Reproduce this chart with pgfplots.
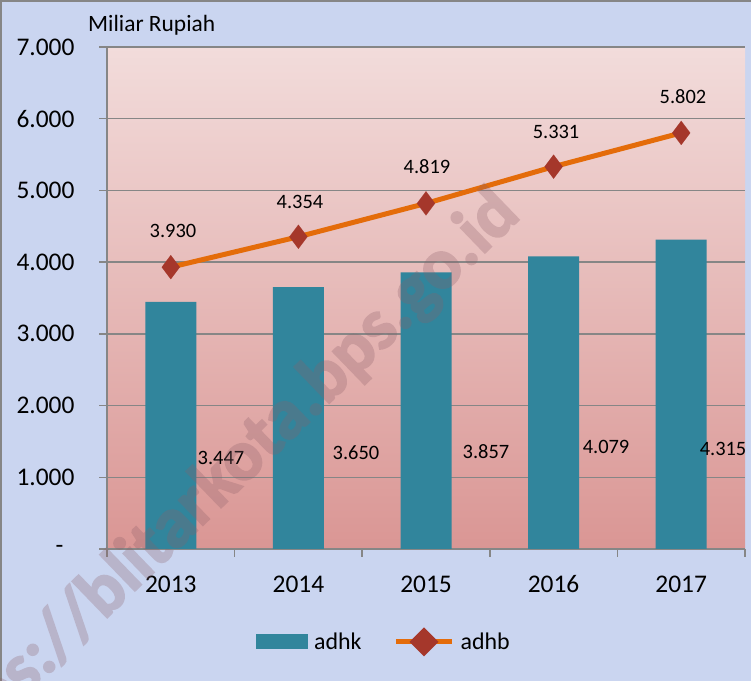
\documentclass[border=0pt]{standalone}
\usepackage{pgfplots}
\pgfplotsset{compat=1.18}
\usepackage{fontspec}
\setmainfont{Carlito}
\newfontfamily\wmfont{Carlito}[BoldFeatures={FakeBold=2.5}]
\definecolor{bgblue}{RGB}{202,213,240}
\definecolor{pinktop}{RGB}{242,220,219}
\definecolor{pinkbot}{RGB}{218,150,148}
\definecolor{barteal}{RGB}{49,133,156}
\definecolor{lineorange}{RGB}{228,108,10}
\definecolor{markred}{RGB}{165,55,43}
\definecolor{gridgray}{RGB}{134,134,134}
\definecolor{wmark}{RGB}{140,95,105}
\begin{document}
\begin{tikzpicture}[x=1bp,y=1bp]
\useasboundingbox (0,0) rectangle (751,681);
\clip (0,0) rectangle (751,681);
\fill[bgblue] (0,0) rectangle (751,681);
\draw[gridgray, line width=2bp] (1,0) -- (1,680) -- (751,680);
\node[anchor=base west, font=\fontsize{23.5}{28}\selectfont, inner sep=0] at (88,649) {Miliar Rupiah};
\begin{axis}[
  at={(107bp,132bp)}, anchor=south west,
  scale only axis, width=638bp, height=502bp,
  xmin=-0.5, xmax=4.5, ymin=0, ymax=7000,
  axis x line*=bottom, axis y line*=left,
  axis line style={gridgray, line width=1.5bp},
  axis background/.style={shade, top color=pinktop, bottom color=pinkbot},
  xtick={0,1,2,3,4},
  xticklabels={2013,2014,2015,2016,2017},
  major x tick style={draw=none},
  minor xtick={-0.5,0.5,1.5,2.5,3.5,4.5},
  minor x tick style={gridgray, line width=1.5bp},
  minor tick length=8bp,
  ytick={0,1000,2000,3000,4000,5000,6000,7000},
  yticklabels={{-\hspace*{11bp}},1.000,2.000,3.000,4.000,5.000,6.000,7.000},
  major tick length=8bp,
  tick align=outside,
  y tick style={gridgray, line width=1.5bp},
  ymajorgrids, grid style={gridgray, line width=1.5bp},
  ticklabel style={font=\fontsize{25.5}{30}\selectfont},
  yticklabel style={xshift=-21bp},
  xticklabel style={yshift=-15bp},
  clip=false,
  legend columns=2,
  legend style={at={(0.434,-0.185)}, anchor=center, draw=none, fill=none,
    font=\fontsize{24}{28}\selectfont, column sep=4bp,
    /tikz/every even column/.append style={column sep=30bp}},
]
\addplot[ybar, bar width=51bp, fill=barteal, draw=none,
  legend image code/.code={\fill[barteal] (0bp,-7.5bp) rectangle (52bp,7.5bp);}]
  coordinates {(0,3447) (1,3650) (2,3857) (3,4079) (4,4315)};
\addlegendentry{adhk}
\addplot[lineorange, line width=5bp, mark=diamond*, mark size=12bp,
  mark options={solid, fill=markred, draw=markred, line width=0.1bp},
  legend image code/.code={\draw[lineorange, line width=5bp] (0bp,0bp) -- (56bp,0bp);
    \fill[markred] (28bp,-11bp) -- (39bp,0bp) -- (28bp,11bp) -- (17bp,0bp) -- cycle;}]
  coordinates {(0,3930) (1,4354) (2,4819) (3,5331) (4,5802)};
\addlegendentry{adhb}
\begin{scope}[every node/.style={font=\fontsize{20.5}{24}\selectfont, inner sep=0}]
\node at (axis cs:0.393,1269) {3.447};
\node at (axis cs:1.451,1339) {3.650};
\node at (axis cs:2.470,1353) {3.857};
\node at (axis cs:3.411,1423) {4.079};
\node at (axis cs:4.328,1395) {4.315};
\node at (axis cs:0.017,4435) {3.930};
\node at (axis cs:1.012,4840) {4.354};
\node at (axis cs:2.008,5328) {4.819};
\node at (axis cs:3.019,5816) {5.331};
\node at (axis cs:4.014,6304) {5.802};
\end{scope}
\end{axis}
\begin{scope}[transparency group, opacity=0.28]
\node[rotate=44, anchor=base east, inner sep=0, text=wmark,
  font=\wmfont\bfseries\fontsize{72}{84}\selectfont] at (522,464) {https://blitarkota.bps.go.id};
\end{scope}
\end{tikzpicture}
\end{document}
